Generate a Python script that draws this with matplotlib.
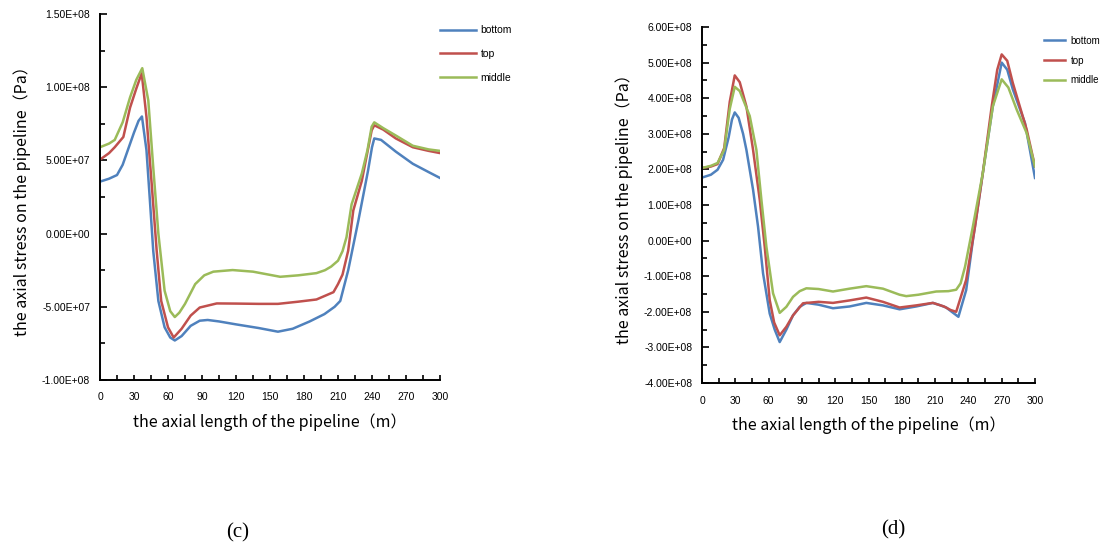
import numpy as np
import matplotlib
matplotlib.use("Agg")
import matplotlib.pyplot as plt
from matplotlib.ticker import MultipleLocator, FuncFormatter

# ---------------- data: chart (c), values in 1e7 Pa ----------------
c_bottom_x = [0, 8, 15, 20, 25, 30, 34, 37, 41, 44, 47, 51.5, 57, 62, 66, 72, 80, 88, 95, 105,
              120, 140, 157, 170, 185, 198, 207, 212, 219, 228, 236.5, 240, 242, 248, 261, 276, 290, 300]
c_bottom_y = [3.55, 3.75, 4.0, 4.7, 5.8, 6.9, 7.7, 8.0, 5.7, 2.3, -1.2, -4.6, -6.4, -7.1, -7.3, -7.0, -6.3, -5.95, -5.9, -6.0,
              -6.2, -6.45, -6.7, -6.5, -6.0, -5.5, -5.0, -4.6, -2.5, 0.9, 4.3, 5.9, 6.5, 6.4, 5.6, 4.77, 4.2, 3.8]

c_top_x = [0, 8, 13, 20.6, 26.5, 32, 36.8, 41, 45.6, 50, 54, 60, 65, 72, 80, 88, 103, 120, 140, 157,
           175, 191, 198.5, 206, 210, 214, 219, 223.5, 231, 239.7, 242, 250, 261, 276, 290, 300]
c_top_y = [5.05, 5.5, 5.9, 6.6, 8.6, 9.9, 10.95, 7.97, 3.4, -1.16, -4.6, -6.4, -7.1, -6.5, -5.6, -5.05, -4.77, -4.78, -4.8, -4.8,
           -4.65, -4.5, -4.25, -4.0, -3.45, -2.8, -1.16, 1.58, 3.6, 7.05, 7.4, 7.1, 6.5, 5.9, 5.65, 5.5]

c_middle_x = [0, 8, 13, 20, 26.5, 32, 37.3, 42.6, 47, 51.5, 57, 62, 66, 70, 75, 84, 92, 100, 117, 135,
              159, 175, 191, 198.5, 204, 210, 214, 217.5, 222, 231, 236, 239.7, 242, 250, 261, 276, 290, 300]
c_middle_y = [5.9, 6.15, 6.4, 7.6, 9.3, 10.5, 11.3, 9.1, 4.5, 0, -3.9, -5.3, -5.7, -5.4, -4.8, -3.45, -2.85, -2.6, -2.49, -2.6,
              -2.95, -2.85, -2.7, -2.5, -2.25, -1.85, -1.2, -0.25, 2.0, 4.1, 5.7, 7.3, 7.6, 7.2, 6.7, 6.0, 5.75, 5.65]

# ---------------- data: chart (d), values in 1e8 Pa ----------------
d_bottom_x = [0, 8, 14, 19, 24, 27, 29.5, 33, 37, 40, 46, 50.5, 55, 61, 65.5, 70, 76, 82, 88, 94,
              105, 118, 133, 148, 163, 178, 193, 208, 214, 220, 225, 231, 238, 244, 253, 262, 270, 275, 280, 291, 300]
d_bottom_y = [1.77, 1.85, 1.99, 2.27, 2.9, 3.4, 3.6, 3.45, 3.0, 2.55, 1.43, 0.39, -0.92, -2.05, -2.5, -2.85, -2.5, -2.1, -1.86, -1.75,
              -1.8, -1.9, -1.85, -1.75, -1.82, -1.93, -1.85, -1.75, -1.81, -1.88, -2.0, -2.14, -1.39, 0, 1.9, 3.77, 5.0, 4.8, 4.25, 3.3, 1.76]

d_top_x = [0, 8, 14, 20, 25, 29.5, 34, 40, 46, 52, 56.5, 61, 65, 70, 76, 82, 91, 105, 118, 133,
           148, 163, 178, 193, 208, 218, 224, 229, 238, 246, 253, 261, 266, 270, 275, 280, 292.5, 300]
d_top_y = [2.04, 2.08, 2.15, 2.6, 3.9, 4.64, 4.45, 3.77, 2.55, 1.15, -0.17, -1.67, -2.3, -2.66, -2.42, -2.1, -1.76, -1.72, -1.75, -1.68,
           -1.6, -1.72, -1.88, -1.82, -1.75, -1.85, -1.95, -2.0, -1.1, 0.4, 1.9, 3.77, 4.8, 5.23, 5.05, 4.43, 3.12, 2.08]

d_middle_x = [0, 8, 14, 20, 25, 29.5, 34, 43, 49, 53.5, 58, 64, 70, 76, 82, 88, 94, 105, 118, 133,
              148, 163, 178, 184, 195, 211, 222, 229, 233, 237, 244, 253, 262, 270, 276, 283.5, 292.5, 300]
d_middle_y = [2.04, 2.1, 2.18, 2.55, 3.7, 4.32, 4.2, 3.5, 2.55, 1.15, -0.17, -1.48, -2.03, -1.86, -1.58, -1.42, -1.34, -1.36, -1.43, -1.35,
              -1.28, -1.35, -1.52, -1.56, -1.52, -1.43, -1.42, -1.38, -1.2, -0.73, 0.39, 1.9, 3.77, 4.53, 4.3, 3.68, 3.02, 2.08]

series_names = ["bottom", "top", "middle"]
series_colors = ["#4F81BD", "#C0504D", "#9BBB59"]
xlabel_text = "the axial length of the pipeline（m）"
ylabel_text = "the axial stress on the pipeline（Pa）"
captions = ["(c)", "(d)"]

fig = plt.figure(figsize=(11.07, 5.44), dpi=100)
W, H = 1107, 544

def axes_px(x0, x1, ytop, ybot):
    return fig.add_axes([x0 / W, 1 - ybot / H, (x1 - x0) / W, (ybot - ytop) / H])

ax_c = axes_px(100, 440, 14, 380)
ax_d = axes_px(702, 1035, 27, 383)

label_font = ["Noto Sans CJK SC", "DejaVu Sans"]
tick_font = "Liberation Sans"

def style(ax, ylim, ymajor, yminor):
    ax.set_xlim(0, 300)
    ax.set_ylim(*ylim)
    for s in ["top", "right"]:
        ax.spines[s].set_visible(False)
    for s in ["left", "bottom"]:
        ax.spines[s].set_linewidth(1.4)
        ax.spines[s].set_color("black")
    ax.xaxis.set_major_locator(MultipleLocator(30))
    ax.xaxis.set_minor_locator(MultipleLocator(15))
    ax.yaxis.set_major_locator(MultipleLocator(ymajor))
    ax.yaxis.set_minor_locator(MultipleLocator(yminor))
    ax.yaxis.set_major_formatter(FuncFormatter(lambda v, p: f"{v:.2E}"))
    ax.xaxis.set_major_formatter(FuncFormatter(lambda v, p: f"{v:.0f}"))
    ax.tick_params(axis="both", which="both", direction="in", color="black", width=1.2)
    ax.tick_params(axis="y", which="major", length=5, pad=7)
    ax.tick_params(axis="y", which="minor", length=3.5)
    ax.tick_params(axis="x", which="major", length=3.5, pad=9)
    ax.tick_params(axis="x", which="minor", length=3.5)
    for lab in ax.get_xticklabels() + ax.get_yticklabels():
        lab.set_fontfamily(tick_font)
        lab.set_fontsize(7.5)
    ax.set_xlabel(xlabel_text, fontfamily=label_font, fontsize=11.5, labelpad=8)
    ax.set_ylabel(ylabel_text, fontfamily=label_font, fontsize=11.5, labelpad=8)

c_data = [(c_bottom_x, c_bottom_y), (c_top_x, c_top_y), (c_middle_x, c_middle_y)]
d_data = [(d_bottom_x, d_bottom_y), (d_top_x, d_top_y), (d_middle_x, d_middle_y)]

for (xs, ys), name, col in zip(c_data, series_names, series_colors):
    ax_c.plot(xs, np.array(ys) * 1e7, color=col, lw=1.8, label=name, solid_joinstyle="round")
for (xs, ys), name, col in zip(d_data, series_names, series_colors):
    ax_d.plot(xs, np.array(ys) * 1e8, color=col, lw=1.8, label=name, solid_joinstyle="round")

style(ax_c, (-1e8, 1.5e8), 5e7, 2.5e7)
style(ax_d, (-4e8, 6e8), 1e8, 5e7)

ax_c.legend(loc="upper left", bbox_to_anchor=(0.988, 0.98), frameon=False,
            prop={"family": tick_font, "size": 7.5}, handlelength=3.4,
            labelspacing=1.3, handletextpad=0.5, borderaxespad=0)
ax_d.legend(loc="upper left", bbox_to_anchor=(1.014, 0.986), frameon=False,
            prop={"family": tick_font, "size": 7}, handlelength=2.2,
            labelspacing=1.0, handletextpad=0.6, borderaxespad=0)

fig.text(238 / W, 1 - 533 / H, captions[0], ha="center", va="center",
         fontfamily="Liberation Serif", fontsize=15)
fig.text(893 / W, 1 - 530 / H, captions[1], ha="center", va="center",
         fontfamily="Liberation Serif", fontsize=15)

fig.savefig("out.png", dpi=100)
